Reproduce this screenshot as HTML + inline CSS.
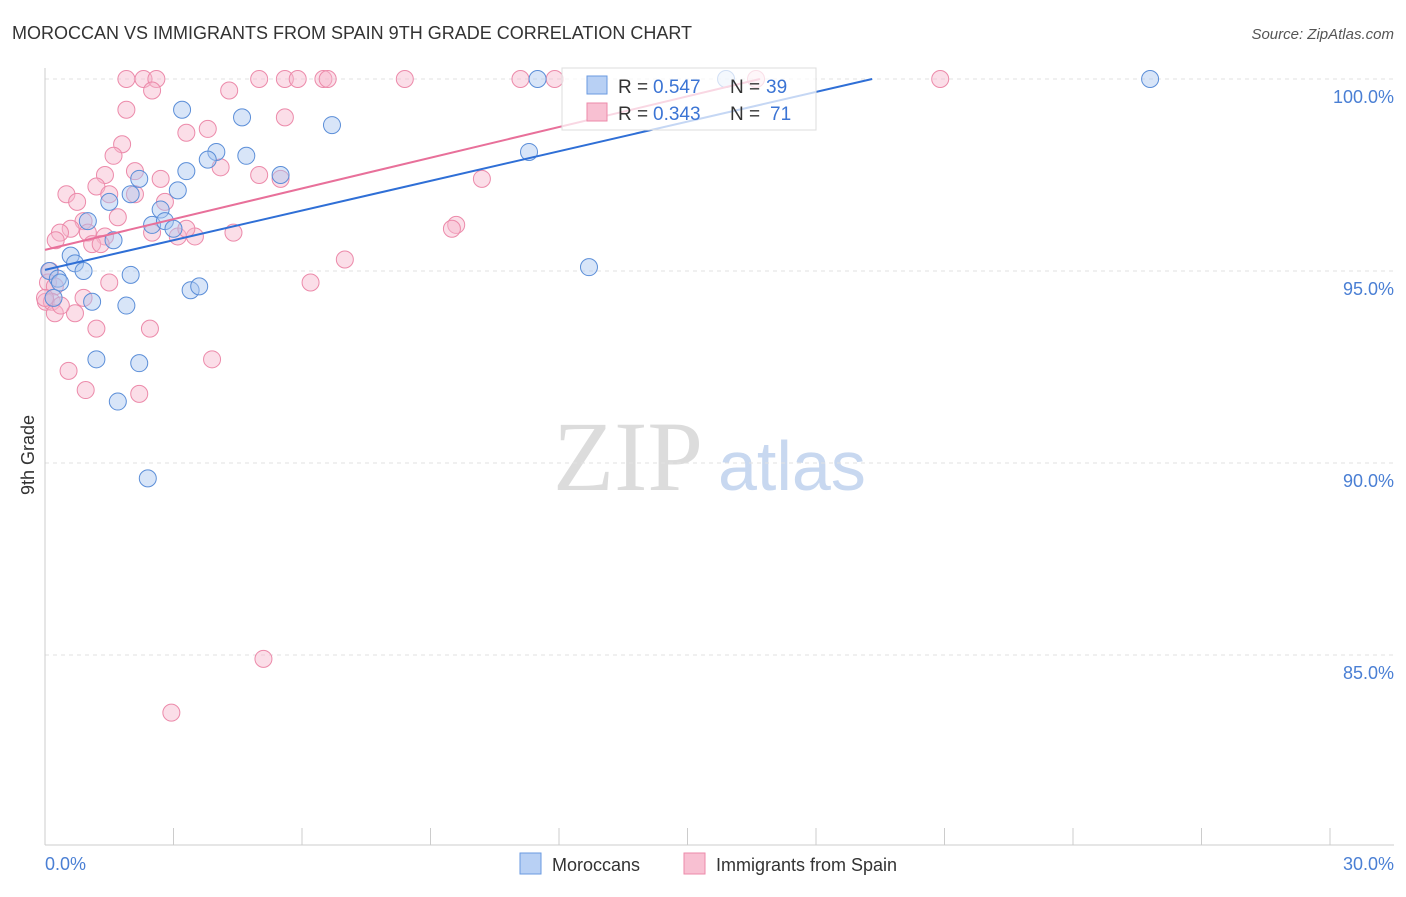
<!DOCTYPE html>
<html><head><meta charset="utf-8"><style>
body{margin:0;background:#fff;font-family:"Liberation Sans",sans-serif;}
</style></head><body>
<svg id="chart" width="1406" height="892" font-family="Liberation Sans, sans-serif">
<text x="12" y="39" font-size="18" fill="#333">MOROCCAN VS IMMIGRANTS FROM SPAIN 9TH GRADE CORRELATION CHART</text>
<text x="1394" y="39" font-size="15" fill="#555" font-style="italic" text-anchor="end">Source: ZipAtlas.com</text>
<text x="553" y="490" font-size="100" fill="#dcdcdc" style="font-family:'Liberation Serif',serif">ZIP</text>
<text x="718" y="490" font-size="70" fill="#c8d8f0">atlas</text>
<g id="grid"></g><g id="axes"></g><g id="pts"></g><g id="trend"></g>
<text transform="translate(34,455) rotate(-90)" font-size="18" fill="#333" text-anchor="middle">9th Grade</text>
<text x="45" y="870" font-size="18" fill="#4a7fd4">0.0%</text>
<text x="1394" y="870" font-size="18" fill="#4a7fd4" text-anchor="end">30.0%</text>
<g>
<rect x="562" y="68" width="254" height="62" fill="#fff" fill-opacity="0.72" stroke="#ddd"/>
<rect x="587" y="76" width="20" height="18" fill="#b8d0f4" stroke="#6a9ae0"/>
<rect x="587" y="103" width="20" height="18" fill="#f8c0d2" stroke="#ec8aaa"/>
<text x="618" y="93" font-size="19" fill="#333">R =</text>
<text x="653" y="93" font-size="19" fill="#3b74d4">0.547</text>
<text x="730" y="93" font-size="19" fill="#333">N =</text>
<text x="766" y="93" font-size="19" fill="#3b74d4">39</text>
<text x="618" y="120" font-size="19" fill="#333">R =</text>
<text x="653" y="120" font-size="19" fill="#3b74d4">0.343</text>
<text x="730" y="120" font-size="19" fill="#333">N =</text>
<text x="770" y="120" font-size="19" fill="#3b74d4">71</text>
</g>
<g>
<rect x="520" y="853" width="21" height="21" fill="#b8d0f4" stroke="#6a9ae0"/>
<text x="552" y="871" font-size="18" fill="#333">Moroccans</text>
<rect x="684" y="853" width="21" height="21" fill="#f8c0d2" stroke="#ec8aaa"/>
<text x="716" y="871" font-size="18" fill="#333">Immigrants from Spain</text>
</g>
</svg>
<script>
const yTicks=[85,90,95,100];
const xTicks=[0,3,6,9,12,15,18,21,24,27,30];
const moroccansX=[3.2,4.6,6.7,4.0,4.7,3.8,3.3,2.2,5.5,3.1,2.0,1.5,2.7,1.0,2.5,2.8,3.0,1.6,0.6,0.7,0.9,0.1,2.0,0.3,0.35,0.2,1.1,1.9,3.4,3.6,1.2,2.2,1.7,2.4,11.3,12.7,11.5,15.9,25.8];
const moroccansY=[99.2,99.0,98.8,98.1,98.0,97.9,97.6,97.4,97.5,97.1,97.0,96.8,96.6,96.3,96.2,96.3,96.1,95.8,95.4,95.2,95.0,95.0,94.9,94.8,94.7,94.3,94.2,94.1,94.5,94.6,92.7,92.6,91.6,89.6,98.1,95.1,100,100,100];
const spainX=[1.9,2.3,2.6,2.5,5.0,5.6,5.9,6.5,6.6,8.4,11.1,11.9,16.6,20.9,1.9,4.3,3.3,3.8,5.6,1.8,1.6,4.1,2.1,1.4,2.7,5.0,5.5,1.2,2.1,1.5,2.8,0.5,0.75,1.7,0.9,0.6,0.35,1.0,0.25,1.4,3.1,3.5,4.4,1.1,1.3,2.5,9.6,9.5,10.2,7.0,6.2,0.12,0.07,0.23,1.5,0.02,0.16,0.9,0.7,1.2,2.45,0.55,0.95,2.2,3.9,5.1,2.95,0.23,0,0.37,3.3];
const spainY=[100,100,100,99.7,100,100,100,100,100,100,100,100,100,100,99.2,99.7,98.6,98.7,99.0,98.3,98.0,97.7,97.6,97.5,97.4,97.5,97.4,97.2,97.0,97.0,96.8,97.0,96.8,96.4,96.3,96.1,96.0,96.0,95.8,95.9,95.9,95.9,96.0,95.7,95.7,96.0,96.2,96.1,97.4,95.3,94.7,95.0,94.7,94.6,94.7,94.2,94.2,94.3,93.9,93.5,93.5,92.4,91.9,91.8,92.7,84.9,83.5,93.9,94.3,94.1,96.1];
const blueTrend=[95.03,100], blueTrendX=[0,19.31];
const pinkTrend=[95.55,100], pinkTrendX=[0,16.69];
const X0=45,X1=1330,Y100=79,PX_PER_PCT=38.4;
function sx(v){return X0+(X1-X0)*v/30;}
function sy(v){return Y100+(100-v)*PX_PER_PCT;}
const NS="http://www.w3.org/2000/svg";
function mk(tag,attrs,parent){const e=document.createElementNS(NS,tag);for(const k in attrs)e.setAttribute(k,attrs[k]);parent.appendChild(e);return e;}
const grid=document.getElementById('grid'),axes=document.getElementById('axes'),pts=document.getElementById('pts'),trend=document.getElementById('trend');
yTicks.forEach(t=>{
 const l=mk('line',{x1:45,x2:1394,y1:sy(t),y2:sy(t),stroke:'#e2e2e2','stroke-dasharray':'4,4'},grid);
 
 
 const tx=mk('text',{x:1394,y:sy(t)+24,'font-size':18,fill:'#4a7fd4','text-anchor':'end'},grid);
 tx.textContent=t.toFixed(1)+'%';
 
 
});
const ya=mk('line',{x1:45,x2:45,y1:68,y2:845,stroke:'#ccc'},axes);


const xa=mk('line',{x1:45,x2:1394,y1:845,y2:845,stroke:'#ccc'},axes);


xTicks.forEach(t=>{
 const l=mk('line',{x1:sx(t),x2:sx(t),y1:828,y2:845,stroke:'#ccc'},axes);
 
 
});
function dots(xs,ys,fill,stroke,name){
 xs.forEach((x,i)=>{
  const c=mk('circle',{cx:sx(x),cy:sy(ys[i]),r:8.5,fill:fill,'fill-opacity':0.45,stroke:stroke,'stroke-width':1},pts);
  
  
 });
}
dots(spainX,spainY,'#f7b6cb','#ec8aaa','spain-point');
dots(moroccansX,moroccansY,'#a9c6f0','#5b8ed8','moroccan-point');
const bl=mk('line',{x1:sx(blueTrendX[0]),y1:sy(blueTrend[0]),x2:sx(blueTrendX[1]),y2:sy(blueTrend[1]),stroke:'#2f6fd6','stroke-width':2},trend);


const pl=mk('line',{x1:sx(pinkTrendX[0]),y1:sy(pinkTrend[0]),x2:sx(pinkTrendX[1]),y2:sy(pinkTrend[1]),stroke:'#e8709a','stroke-width':2},trend);


</script>
</body></html>
